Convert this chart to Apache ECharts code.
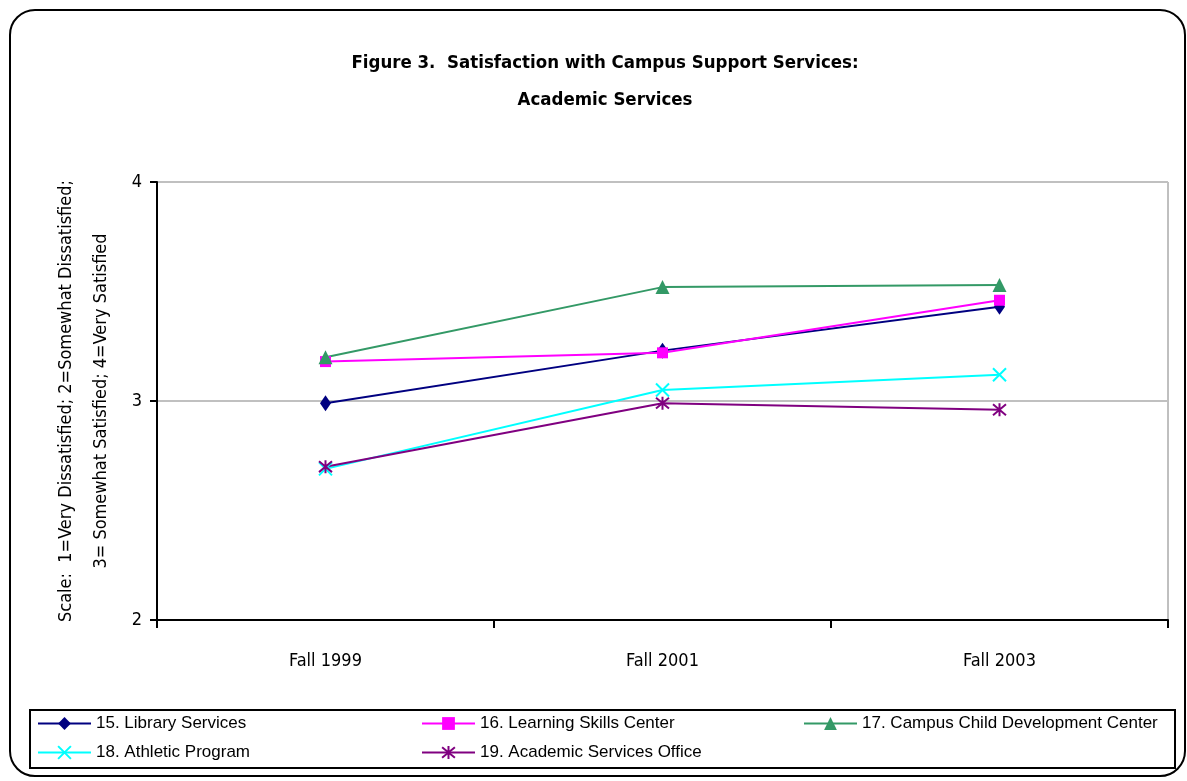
<!DOCTYPE html>
<html>
<head>
<meta charset="utf-8">
<title>Figure 3</title>
<script src="https://cdn.jsdelivr.net/npm/echarts@6/dist/echarts.min.js"></script>
<style>
  html, body { margin: 0; padding: 0; background: #fff; }
  #chart { width: 1187px; height: 781px; }
</style>
</head>
<body>
<div id="chart"></div>
<script>
const categories = ['Fall 1999', 'Fall 2001', 'Fall 2003']
const seriesNames = [
  '15. Library Services',
  '16. Learning Skills Center',
  '17. Campus Child Development Center',
  '18. Athletic Program',
  '19. Academic Services Office'
]
const libraryServices = [2.99, 3.23, 3.43]
const learningSkills = [3.18, 3.22, 3.46]
const childDevelopment = [3.20, 3.52, 3.53]
const athleticProgram = [2.69, 3.05, 3.12]
const academicServices = [2.70, 2.99, 2.96]

const narrow = '"Liberation Sans Narrow", "Arial Narrow", "DejaVu Sans Condensed", sans-serif'
const regular = '"Liberation Sans", Arial, sans-serif'

const seriesData = [libraryServices, learningSkills, childDevelopment, athleticProgram, academicServices]
const colors = ['#000080', '#ff00ff', '#339966', '#00ffff', '#800080']
const symbols = [
  'diamond',
  'rect',
  'triangle',
  'path://M0,0L10,10M10,0L0,10',
  'path://M0,0L10,10M10,0L0,10M5,-1L5,11'
]
const symbolSizes = [[11, 16], 11, 14, 13, 13]

const legendPos = [[37, 715], [421, 715], [803, 715], [37, 744], [421, 744]]

const chart = echarts.init(document.getElementById('chart'))

const option = {
  animation: false,
  title: {
    text: 'Figure 3.  Satisfaction with Campus Support Services:\nAcademic Services',
    left: 600,
    top: 40,
    textAlign: 'center',
    textStyle: {
      fontFamily: narrow,
      fontWeight: 'bold',
      fontSize: 18.5,
      lineHeight: 37,
      color: '#000'
    }
  },
  graphic: [
    {
      type: 'rect',
      shape: { x: 10, y: 10, width: 1175, height: 766, r: 25 },
      style: { fill: 'none', stroke: '#000', lineWidth: 2 }
    },
    {
      type: 'rect',
      shape: { x: 30, y: 710, width: 1145, height: 58 },
      style: { fill: 'none', stroke: '#000', lineWidth: 2 }
    }
  ],
  legend: seriesNames.map((name, i) => ({
    data: [name],
    left: legendPos[i][0],
    top: legendPos[i][1],
    padding: 0,
    itemWidth: 53,
    itemHeight: 16,
    lineStyle: { width: 2 },
    textStyle: { fontFamily: regular, fontSize: 17, color: '#000' }
  })),
  grid: {
    left: 157,
    right: 19,
    top: 182,
    bottom: 161,
    show: true,
    borderColor: '#808080',
    borderWidth: 1
  },
  xAxis: {
    type: 'category',
    data: categories,
    boundaryGap: true,
    axisLine: { lineStyle: { color: '#000', width: 2 } },
    axisTick: { show: true, interval: 0, length: 8, lineStyle: { color: '#000', width: 2 } },
    axisLabel: { margin: 32, fontFamily: narrow, fontSize: 18, color: '#000' }
  },
  yAxis: {
    type: 'value',
    min: 2,
    max: 4,
    interval: 1,
    name: 'Scale:  1=Very Dissatisfied; 2=Somewhat Dissatisfied;\n3= Somewhat Satisfied; 4=Very Satisfied',
    nameLocation: 'middle',
    nameRotate: 90,
    nameGap: 38,
    nameTextStyle: { fontFamily: narrow, fontSize: 18, lineHeight: 35, color: '#000' },
    axisLine: { show: true, lineStyle: { color: '#000', width: 2 } },
    axisTick: { show: true, length: 7, lineStyle: { color: '#000', width: 2 } },
    axisLabel: { margin: 15, fontFamily: narrow, fontSize: 18, color: '#000' },
    splitLine: { show: true, lineStyle: { color: '#c0c0c0', width: 2 } }
  },
  series: seriesNames.map((name, i) => ({
    name: name,
    type: 'line',
    data: seriesData[i],
    symbol: symbols[i],
    symbolSize: symbolSizes[i],
    lineStyle: { color: colors[i], width: 2 },
    itemStyle: { color: colors[i], borderColor: colors[i], borderWidth: i > 2 ? 2 : 0 }
  }))
}

chart.setOption(option)
</script>
</body>
</html>
